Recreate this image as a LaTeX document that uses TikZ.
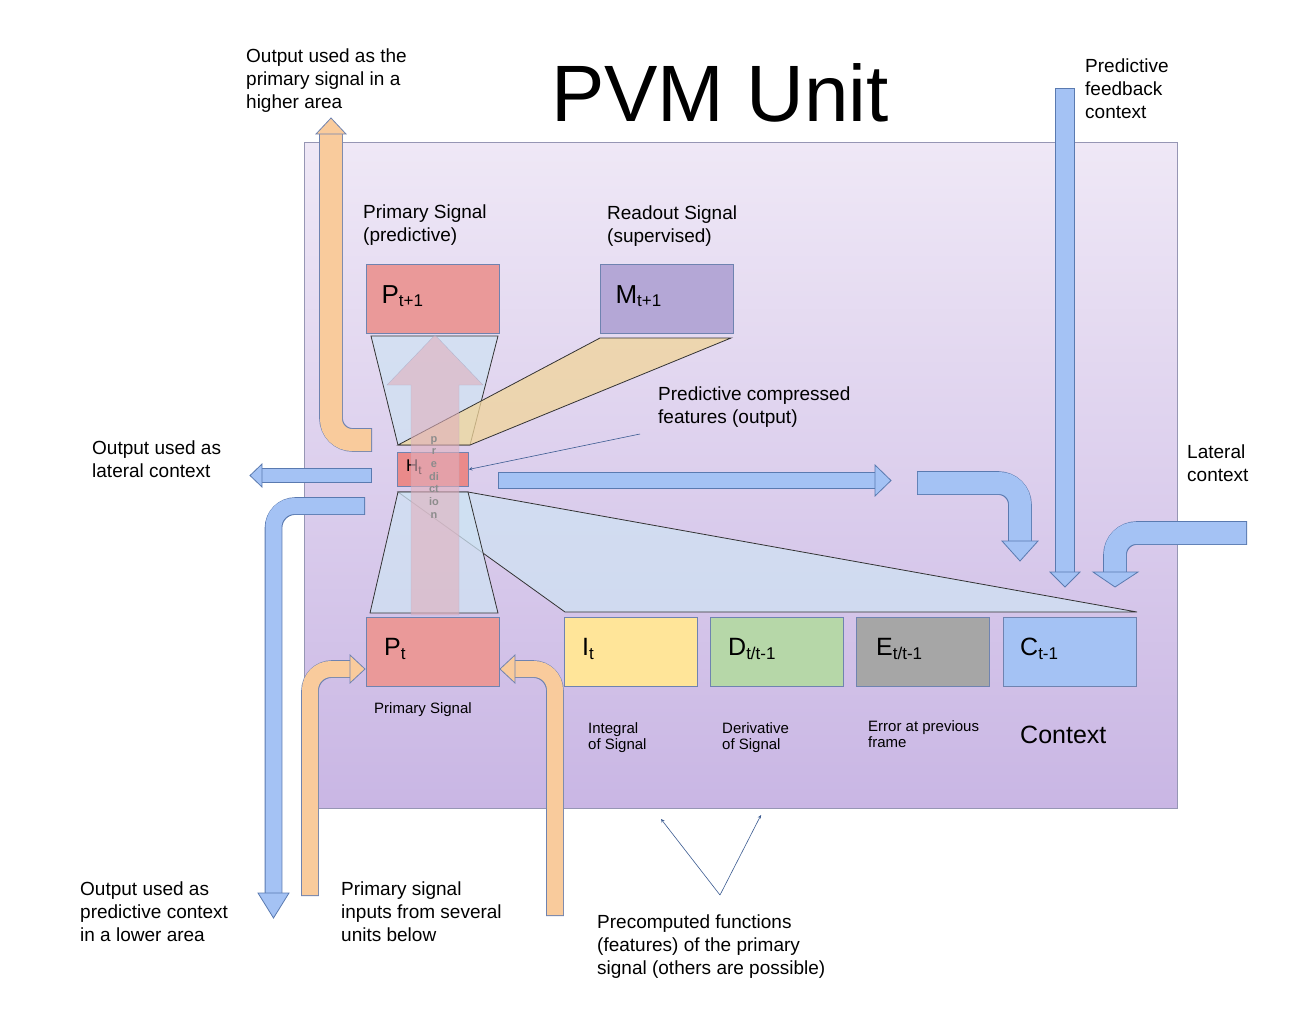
\documentclass[tikz,border=0pt]{standalone}
\usepackage{fontspec}
\setmainfont{Liberation Sans}
\begin{document}
\begin{tikzpicture}[x=1pt,y=-1pt,
 bx/.style={draw=bord,line width=0.8pt},
 lbl/.style={font=\fontsize{19}{23}\selectfont,align=left,anchor=north west,inner sep=0},
 sml/.style={font=\fontsize{15}{16}\selectfont,align=left,anchor=north west,inner sep=0},
 big/.style={font=\fontsize{25}{28}\selectfont,anchor=west,inner sep=0},
 thin/.style={draw=black!80,line width=0.8pt},
 ann/.style={draw=annc,line width=0.6pt,-stealth}]
\definecolor{bord}{HTML}{6F83B0}
\definecolor{bluef}{HTML}{A4C2F4}
\definecolor{blued}{HTML}{5A7AB0}
\definecolor{orf}{HTML}{F9CB9C}
\definecolor{annc}{HTML}{3A5A90}
\useasboundingbox (0,0) rectangle (1312,1026);
% main box
\shade[top color={rgb,255:red,239;green,232;blue,246},bottom color={rgb,255:red,201;green,182;blue,228}] (304,142) rectangle (1177,808);
\draw[draw={rgb,255:red,150;green,150;blue,180},line width=0.8pt] (304,142) rectangle (1177,808);
\node[font=\fontsize{80}{80}\selectfont,inner sep=0] (title) at (720,93) {PVM Unit};
% fans
\draw[thin,fill={rgb,255:red,207;green,226;blue,243},fill opacity=0.75] (398,492) -- (468,492) -- (1137,612) -- (565,612) -- cycle;
\draw[thin,fill={rgb,255:red,207;green,226;blue,243},fill opacity=0.75] (371,336) -- (498,336) -- (470,445) -- (398,445) -- cycle;
\draw[thin,fill={rgb,255:red,207;green,226;blue,243},fill opacity=0.75] (398,492) -- (468,492) -- (498,613) -- (370,613) -- cycle;
\draw[thin,fill={rgb,255:red,241;green,213;blue,154},fill opacity=0.75] (398,445) -- (470,445) -- (731,338) -- (600,338) -- cycle;
% boxes
\node[bx,fill={rgb,255:red,234;green,153;blue,153},minimum width=133,minimum height=69,anchor=north west] (pt1) at (366,264) {};
\node[font=\fontsize{26}{28}\selectfont,anchor=west] at (378,296) {P\textsubscript{\fontsize{17}{17}\selectfont t+1}};
\node[bx,fill={rgb,255:red,180;green,167;blue,214},minimum width=133,minimum height=69,anchor=north west] (mt1) at (600,264) {};
\node[font=\fontsize{26}{28}\selectfont,anchor=west] at (612,296) {M\textsubscript{\fontsize{17}{17}\selectfont t+1}};
\node[bx,fill={rgb,255:red,234;green,138;blue,138},minimum width=71,minimum height=34,anchor=north west] (ht) at (397,452) {};
\node[font=\fontsize{17}{18}\selectfont,anchor=west,inner sep=0] at (406,467) {H\textsubscript{\fontsize{12}{12}\selectfont t}};
% prediction arrow
\draw[draw=bord!70,fill={rgb,255:red,224;green,176;blue,188},fill opacity=0.6,draw opacity=0.6] (411,615) -- (411,385) -- (387,385) -- (435,335) -- (483,385) -- (459,385) -- (459,615) -- cycle;
\node[font=\fontsize{11}{12.7}\selectfont\bfseries,text=black!45,align=center,inner sep=0,anchor=north] (pred) at (434,436) {p\\r\\e\\di\\ct\\io\\n};
% bottom boxes
\node[bx,fill={rgb,255:red,234;green,153;blue,153},minimum width=133,minimum height=69,anchor=north west] (pt) at (366,617) {};
\node[bx,fill={rgb,255:red,255;green,229;blue,153},minimum width=133,minimum height=69,anchor=north west] (it) at (564,617) {};
\node[bx,fill={rgb,255:red,182;green,215;blue,168},minimum width=133,minimum height=69,anchor=north west] (dt) at (710,617) {};
\node[bx,fill={rgb,255:red,166;green,166;blue,166},minimum width=133,minimum height=69,anchor=north west] (et) at (856,617) {};
\node[bx,fill=bluef,minimum width=133,minimum height=69,anchor=north west] (ct) at (1003,617) {};
\node[big] at (384,649) {P\textsubscript{\fontsize{17}{17}\selectfont t}};
\node[big] at (582,649) {I\textsubscript{\fontsize{17}{17}\selectfont t}};
\node[big] at (728,649) {D\textsubscript{\fontsize{17}{17}\selectfont t/t-1}};
\node[big] at (876,649) {E\textsubscript{\fontsize{17}{17}\selectfont t/t-1}};
\node[big] at (1020,649) {C\textsubscript{\fontsize{17}{17}\selectfont t-1}};
% labels
\node[lbl] (l1) at (246,49) {Output used as the\\primary signal in a\\higher area};
\node[lbl] (l2) at (1085,59) {Predictive\\feedback\\context};
\node[lbl] (l3) at (363,205) {Primary Signal\\(predictive)};
\node[lbl] (l4) at (607,206) {Readout Signal\\(supervised)};
\node[lbl] (l5) at (658,387) {Predictive compressed\\features (output)};
\node[lbl] (l6) at (92,441) {Output used as\\lateral context};
\node[lbl] (l7) at (1187,445) {Lateral\\context};
\node[sml] (l8) at (374,702) {Primary Signal};
\node[sml] (l9) at (588,722) {Integral\\of Signal};
\node[sml] (l10) at (722,722) {Derivative\\of Signal};
\node[sml] (l11) at (868,720) {Error at previous\\frame};
\node[font=\fontsize{25}{28}\selectfont,anchor=west,inner sep=0] (l12) at (1020,735) {Context};
\node[lbl] (l13) at (80,882) {Output used as\\predictive context\\in a lower area};
\node[lbl] (l14) at (341,882) {Primary signal\\inputs from several\\units below};
\node[lbl] (l15) at (597,915) {Precomputed functions\\(features) of the primary\\signal (others are possible)};
% annotation arrows
\coordinate (a1) at (640,434);
\draw[ann] (a1) -- (ht.east);
\coordinate (a2) at (720,895);
\coordinate (a3) at (661,819);
\coordinate (a4) at (761,815);
\draw[ann] (a2) -- (a3);
\draw[ann] (a2) -- (a4);
% thick arrows
\newcommand{\fatarrow}[5]{%
 \draw[line width=#2+1.6,draw=#4,rounded corners=22] #1;
 \draw[line width=#2,draw=#3,rounded corners=21,shorten <=0.8pt] #1;
 \draw[draw=#4,fill=#3,line width=0.8pt,line join=miter] #5;}
% orange up-left
\fatarrow{(372,440) -- (331,440) -- (331,134)}{22}{orf}{bord}{(316,134) -- (331,118) -- (346,134) -- cycle}
% blue lateral output
\fatarrow{(372,475.5) -- (262,475.5)}{13}{bluef}{blued}{(262,464) -- (250,475.5) -- (262,487) -- cycle}
% blue down-left
\fatarrow{(365,506) -- (273.5,506) -- (273.5,893)}{16}{bluef}{blued}{(258,893) -- (273.5,918) -- (289,893) -- cycle}
% orange inputs
\fatarrow{(310,896) -- (310,669) -- (350,669)}{16}{orf}{bord}{(350,655) -- (365,669) -- (350,683) -- cycle}
\fatarrow{(555,916) -- (555,669) -- (515,669)}{16}{orf}{bord}{(515,655) -- (500,669) -- (515,683) -- cycle}
% right arrow
\fatarrow{(498,480.5) -- (875,480.5)}{15}{bluef}{blued}{(875,465) -- (891,480.5) -- (875,496) -- cycle}
% bent down
\fatarrow{(917,483) -- (1020,483) -- (1020,541)}{22}{bluef}{blued}{(1002,541) -- (1020,561) -- (1038,541) -- cycle}
% vertical feedback
\fatarrow{(1065,88) -- (1065,572)}{18}{bluef}{blued}{(1050,572) -- (1065,587) -- (1080,572) -- cycle}
% lateral in
\fatarrow{(1247,533) -- (1115,533) -- (1115,572)}{22}{bluef}{blued}{(1093,572) -- (1115,587) -- (1138,572) -- cycle}
\end{tikzpicture}
\end{document}
